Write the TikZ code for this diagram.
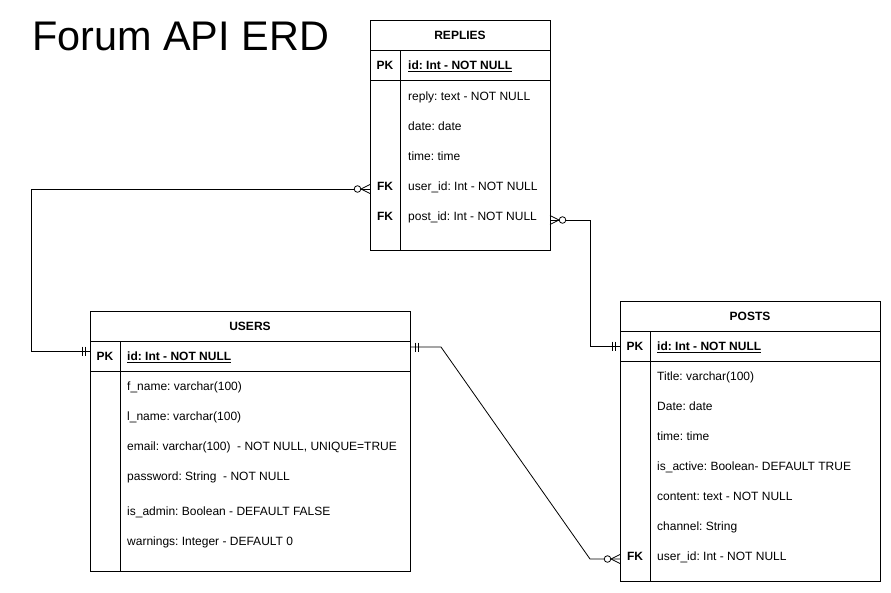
\documentclass[tikz,border=0pt]{standalone}
\usepackage{fontspec}
\setmainfont{Liberation Sans}
\usetikzlibrary{calc}
\frenchspacing
\newcommand\erzm[2]{\begin{scope}[shift={(#1)},xscale=#2]
  \draw[conn] (9,0)--(0,-4.5) (9,0)--(0,4.5);
  \draw[conn,fill=white] (12.5,0) circle[radius=3.3];
\end{scope}}
\newcommand\erone[2]{\begin{scope}[shift={(#1)},xscale=#2]
  \draw[conn] (5,-4.5)--(5,4.5) (8,-4.5)--(8,4.5);
\end{scope}}
\begin{document}
\begin{tikzpicture}[x=1pt,y=-1pt,
  ent/.style={draw, line width=1pt, anchor=north west, inner sep=0pt, outer sep=0pt},
  sep/.style={line width=1pt},
  hdr/.style={font=\fontsize{12}{14}\selectfont\bfseries, inner sep=0pt, text height=8.6pt, text depth=0pt, anchor=center},
  key/.style={font=\fontsize{12}{14}\selectfont\bfseries, inner sep=0pt, text height=8.6pt, text depth=0pt, anchor=center},
  fld/.style={font=\fontsize{12}{14}\selectfont, inner sep=0pt, text height=8.6pt, text depth=0pt, anchor=west},
  pkf/.style={fld, font=\fontsize{12}{14}\selectfont\bfseries},
  conn/.style={line width=0.8pt}]
\useasboundingbox (0,0) rectangle (891,592);

\node[font=\fontsize{41.4}{48}\selectfont, anchor=base west, inner sep=0pt] (title) at (32,50) {Forum API ERD};

% REPLIES
\node[ent, minimum width=180pt, minimum height=230pt] (replies) at (370,20) {};
\draw[sep] (370,50) -- (550,50) (370,80) -- (550,80) (400,50) -- (400,250);
\node[hdr] (replies-h) at (460,35) {REPLIES};
\node[key] (replies-pkk) at (385,65) {PK};
\node[pkf] (replies-pk) at (408,65) {\underline{id: Int - NOT NULL}};
\node[fld] (replies-reply) at (408,96) {reply: text - NOT NULL};
\node[fld] (replies-date) at (408,126) {date: date};
\node[fld] (replies-time) at (408,156) {time: time};
\node[key] (replies-fk1) at (385,186) {FK};
\node[fld] (replies-uid) at (408,186) {user\_id: Int - NOT NULL};
\node[key] (replies-fk2) at (385,216) {FK};
\node[fld] (replies-pid) at (408,216) {post\_id: Int - NOT NULL};

% USERS
\node[ent, minimum width=320pt, minimum height=260pt] (users) at (90,311) {};
\draw[sep] (90,341) -- (410,341) (90,371) -- (410,371) (120,341) -- (120,571);
\node[hdr] (users-h) at (250,326) {USERS};
\node[key] (users-pkk) at (105,356) {PK};
\node[pkf] (users-pk) at (127,356) {\underline{id: Int - NOT NULL}};
\node[fld] (users-f) at (127,386) {f\_name: varchar(100)};
\node[fld] (users-l) at (127,416) {l\_name: varchar(100)};
\node[fld] (users-e) at (127,446) {email: varchar(100) \ - NOT NULL, UNIQUE=TRUE};
\node[fld] (users-p) at (127,476) {password: String \ - NOT NULL};
\node[fld] (users-a) at (127,511) {is\_admin: Boolean - DEFAULT FALSE};
\node[fld] (users-w) at (127,541) {warnings: Integer - DEFAULT 0};

% POSTS
\node[ent, minimum width=260pt, minimum height=280pt] (posts) at (620,301) {};
\draw[sep] (620,331) -- (880,331) (620,361) -- (880,361) (650,331) -- (650,581);
\node[hdr] (posts-h) at (750,316) {POSTS};
\node[key] (posts-pkk) at (635,346) {PK};
\node[pkf] (posts-pk) at (657,346) {\underline{id: Int - NOT NULL}};
\node[fld] (posts-t) at (657,376) {Title: varchar(100)};
\node[fld] (posts-d) at (657,406) {Date: date};
\node[fld] (posts-tm) at (657,436) {time: time};
\node[fld] (posts-a) at (657,466) {is\_active: Boolean- DEFAULT TRUE};
\node[fld] (posts-c) at (657,496) {content: text - NOT NULL};
\node[fld] (posts-ch) at (657,526) {channel: String};
\node[key] (posts-fk) at (635,556) {FK};
\node[fld] (posts-uid) at (657,556) {user\_id: Int - NOT NULL};

% connector end points on entity edges
\coordinate (uL) at ($(users.west|-users-pk)+(0,-5)$);
\coordinate (uR) at ($(users.east|-users-pk)+(0,-9)$);
\coordinate (rL) at ($(replies.west|-replies-uid)+(0,3)$);
\coordinate (rR) at ($(replies.east|-replies-pid)+(0,4)$);
\coordinate (pL) at (posts.west|-posts-pk);
\coordinate (pU) at ($(posts.west|-posts-uid)+(0,3)$);

\draw[conn] (uL) -- ++(-59,0) |- (rL);
\draw[conn] (rR) -- ++(40,0) |- (pL);
\draw[conn] (uR) -- ++(31,0) -- ($(pU)+(-30,0)$) -- (pU);

\erone{uL}{-1}
\erzm{rL}{-1}
\erzm{rR}{1}
\erone{pL}{-1}
\erone{uR}{1}
\erzm{pU}{-1}
\end{tikzpicture}
\end{document}
